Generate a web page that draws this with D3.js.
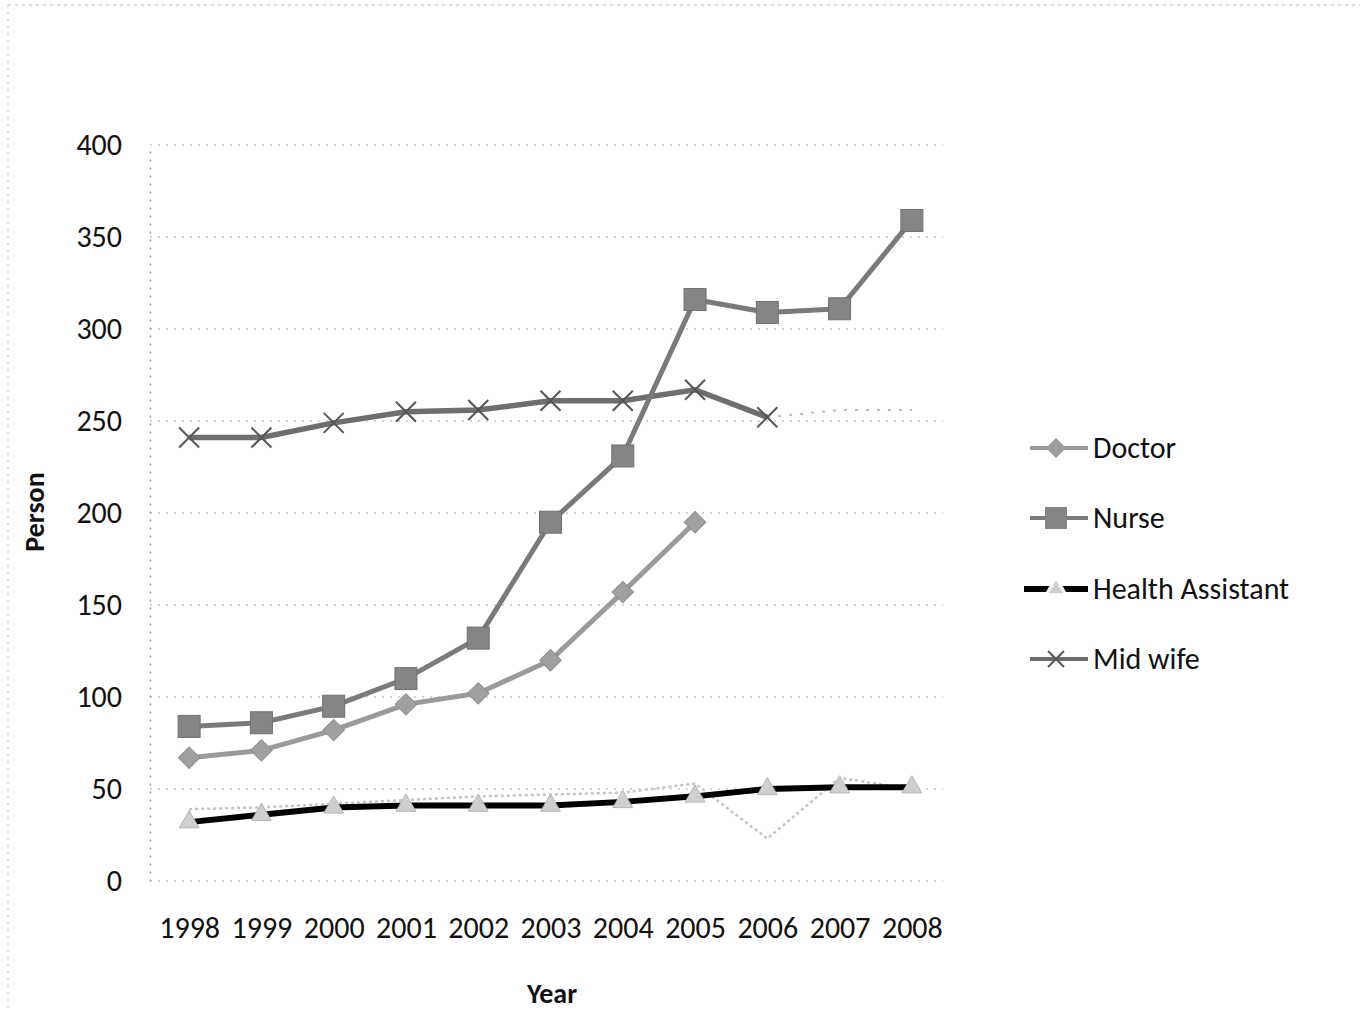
<!DOCTYPE html>
<html><head><meta charset="utf-8">
<script src="https://cdn.jsdelivr.net/npm/d3@7"></script>
<style>
html,body{margin:0;padding:0;background:#fff;}
svg{display:block;font-family:Carlito,Lato,"Open Sans",sans-serif;}
</style></head>
<body>
<svg id="c" width="1368" height="1013"></svg>
<script>
const years = ["1998","1999","2000","2001","2002","2003","2004","2005","2006","2007","2008"];
const doctor = [67, 71, 82, 96, 102, 120, 157, 195, null, null, null];
const nurse = [84, 86, 95, 110, 132, 195, 231, 316, 309, 311, 359];
const healthAssistant = [32, 36, 40, 41, 41, 41, 43, 46, 50, 51, 51];
const midwife = [241, 241, 249, 255, 256, 261, 261, 267, 252, 256, 256];
const faintTrace = [39, 40, 42, 44, 46, 47, 48, 53, 23, 56, 50];
const yTicks = [0, 50, 100, 150, 200, 250, 300, 350, 400];
const seriesNames = ["Doctor", "Nurse", "Health Assistant", "Mid wife"];

const FONT = "Carlito,Lato,'Open Sans',sans-serif";
const FS = 30;
const svg = d3.select("#c");
const x = d3.scalePoint().domain(years).range([153, 948]).padding(0.5);
const y = d3.scaleLinear().domain([0, 400]).range([881, 145]);
const left = 150, right = 943;

// faint outer frame (scan)
svg.append("line").attr("x1",8).attr("x2",1360).attr("y1",5).attr("y2",5)
  .attr("stroke","#bbb").attr("stroke-width",1).attr("stroke-dasharray","3,4");
svg.append("line").attr("x1",8).attr("x2",8).attr("y1",5).attr("y2",1010)
  .attr("stroke","#bbb").attr("stroke-width",1).attr("stroke-dasharray","2,5");

// gridlines
svg.append("g").selectAll("line").data(yTicks).join("line")
  .attr("x1", left).attr("x2", right)
  .attr("y1", d => y(d)).attr("y2", d => y(d))
  .attr("stroke", "#aaa").attr("stroke-width", 1.2).attr("stroke-dasharray", "2,6");

// y axis
const yAxis = d3.axisLeft(y).tickValues(yTicks).tickSize(0).tickPadding(28);
const ga = svg.append("g").attr("transform", `translate(${left},0)`).call(yAxis);
ga.select(".domain").attr("stroke","#999").attr("stroke-dasharray","2,6").attr("stroke-width",1.5);
ga.selectAll("text").attr("font-size", FS).attr("fill", "#111").attr("font-family", FONT);

// x axis labels
const xAxis = d3.axisBottom(x).tickSize(0).tickPadding(36);
const gx = svg.append("g").attr("transform", `translate(0,${y(0)})`).call(xAxis);
gx.select(".domain").remove();
gx.selectAll("text").attr("font-size", FS).attr("fill", "#111").attr("font-family", FONT);

// axis titles
svg.append("text").attr("x", 552).attr("y", 1003).attr("text-anchor","middle")
  .attr("font-size", 28).attr("font-weight","bold").attr("fill","#111").text("Year");
svg.append("text").attr("transform","translate(44,512) rotate(-90)").attr("text-anchor","middle")
  .attr("font-size", 28).attr("font-weight","bold").attr("fill","#111").text("Person");

const line = d3.line().defined(d => d.v != null).x(d => x(d.year)).y(d => y(d.v));
const toPts = arr => years.map((yr, i) => ({year: yr, v: arr[i]}));

// faint trace
svg.append("path").attr("d", line(toPts(faintTrace))).attr("fill","none")
  .attr("stroke","#c4c4c4").attr("stroke-width",2.5).attr("stroke-dasharray","3,3");

// midwife: solid to 2006, faint afterwards
const mwPts = toPts(midwife);
svg.append("path").attr("d", line(mwPts.slice(0, 9))).attr("fill","none")
  .attr("stroke","#6e6e6e").attr("stroke-width",5.5);
svg.append("path").attr("d", line(mwPts.slice(8))).attr("fill","none")
  .attr("stroke","#bbb").attr("stroke-width",2).attr("stroke-dasharray","3,8");
const xMark = (g, cx, cy, s, col, w) => {
  g.append("path").attr("d", `M${cx-s},${cy-s}L${cx+s},${cy+s}M${cx-s},${cy+s}L${cx+s},${cy-s}`)
    .attr("stroke", col).attr("stroke-width", w);
};
const mwG = svg.append("g");
mwPts.slice(0, 9).forEach(d => xMark(mwG, x(d.year), y(d.v), 10, "#555", 2));

// doctor
const drPts = toPts(doctor);
svg.append("path").attr("d", line(drPts)).attr("fill","none")
  .attr("stroke","#9a9a9a").attr("stroke-width",5);
svg.append("g").selectAll("path").data(drPts.filter(d => d.v != null)).join("path")
  .attr("transform", d => `translate(${x(d.year)},${y(d.v)}) rotate(45)`)
  .attr("d", d3.symbol().type(d3.symbolSquare).size(230))
  .attr("fill","#a0a0a0").attr("stroke","#8e8e8e").attr("stroke-width",1);

// nurse
const nPts = toPts(nurse);
svg.append("path").attr("d", line(nPts)).attr("fill","none")
  .attr("stroke","#7a7a7a").attr("stroke-width",5);
svg.append("g").selectAll("rect").data(nPts).join("rect")
  .attr("x", d => x(d.year) - 11).attr("y", d => y(d.v) - 11)
  .attr("width", 22).attr("height", 22)
  .attr("fill","#858585").attr("stroke","#707070").attr("stroke-width",1);

// health assistant
const haPts = toPts(healthAssistant);
svg.append("path").attr("d", line(haPts)).attr("fill","none")
  .attr("stroke","#000").attr("stroke-width",6);
svg.append("g").selectAll("path").data(haPts).join("path")
  .attr("transform", d => `translate(${x(d.year)},${y(d.v)})`)
  .attr("d", d3.symbol().type(d3.symbolTriangle).size(170))
  .attr("fill","#cfcfcf").attr("stroke","#b5b5b5").attr("stroke-width",1);

// legend
const legY = [448, 518, 589, 659];
const leg = svg.append("g");
seriesNames.forEach((name, i) => {
  const ly = legY[i];
  const g = leg.append("g");
  if (i === 0) {
    g.append("line").attr("x1",1030).attr("x2",1088).attr("y1",ly).attr("y2",ly).attr("stroke","#9a9a9a").attr("stroke-width",4);
    g.append("path").attr("transform",`translate(1056,${ly}) rotate(45)`).attr("d", d3.symbol().type(d3.symbolSquare).size(200)).attr("fill","#9c9c9c");
  } else if (i === 1) {
    g.append("line").attr("x1",1030).attr("x2",1088).attr("y1",ly).attr("y2",ly).attr("stroke","#7a7a7a").attr("stroke-width",4);
    g.append("rect").attr("x",1045).attr("y",ly-11).attr("width",22).attr("height",22).attr("fill","#858585");
  } else if (i === 2) {
    g.append("line").attr("x1",1024).attr("x2",1088).attr("y1",ly).attr("y2",ly).attr("stroke","#000").attr("stroke-width",6);
    g.append("path").attr("transform",`translate(1056,${ly})`).attr("d", d3.symbol().type(d3.symbolTriangle).size(170)).attr("fill","#cfcfcf").attr("stroke","#fff").attr("stroke-width",3);
  } else {
    g.append("line").attr("x1",1030).attr("x2",1088).attr("y1",ly).attr("y2",ly).attr("stroke","#6e6e6e").attr("stroke-width",4);
    xMark(g, 1056, ly, 8, "#555", 2);
  }
  g.append("text").attr("x",1093).attr("y",ly+10).attr("font-size",FS).attr("fill","#111").text(name);
});
</script>
</body></html>
